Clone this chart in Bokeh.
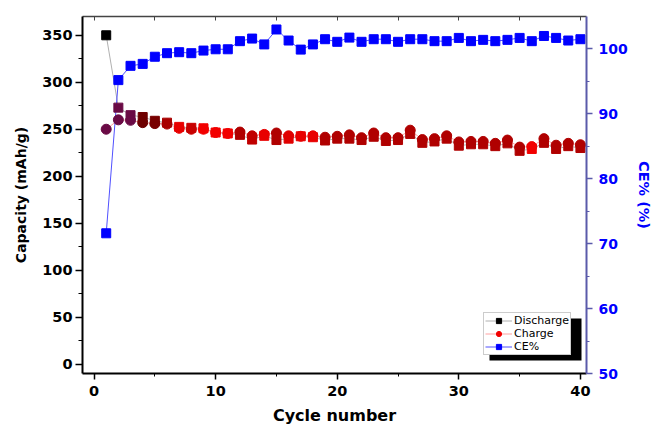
from bokeh.plotting import figure
from bokeh.models import (LinearAxis, Range1d, FixedTicker, ColumnDataSource,
                          Legend, LegendItem, BoxAnnotation)
from bokeh.embed import file_html
from bokeh.resources import INLINE

# ---------------- data ----------------
cycles = list(range(1, 41))
discharge = [350, 273, 265, 263, 259, 257, 252.5, 251.5, 251, 246.5,
             245.5, 244, 239, 243, 238.5, 240, 242.5, 241.5, 238, 240,
             240, 238.5, 242, 237.5, 238.5, 245, 235.5, 237, 240, 232.5,
             234, 234, 232, 235, 227, 229, 235.5, 229, 232, 230]
charge = [250, 260, 259.5, 257, 256, 255.5, 251, 250, 250, 246.5,
          245.5, 247, 243, 244.5, 246, 243, 242.5, 243, 241.5, 242.5,
          244, 241, 246, 241, 241, 249, 239, 240, 243, 236.5,
          237, 237, 235, 238.5, 231, 231.5, 240, 233, 235, 233.5]
ce = [71.6, 95.2, 97.4, 97.7, 98.8, 99.35, 99.5, 99.35, 99.75, 99.95,
      99.95, 101.2, 101.6, 100.7, 103.0, 101.3, 99.9, 100.7, 101.5, 101.1,
      101.75, 101.1, 101.5, 101.5, 101.1, 101.5, 101.5, 101.2, 101.2, 101.7,
      101.2, 101.4, 101.2, 101.4, 101.7, 101.2, 102.0, 101.7, 101.3, 101.5]

x_ticks = [0, 10, 20, 30, 40]
x_minor = [5, 15, 25, 35]
top_ticks = [0, 5, 10, 15, 20, 25, 30, 35, 40]
cap_ticks = [0, 50, 100, 150, 200, 250, 300, 350]
cap_minor = [25, 75, 125, 175, 225, 275, 325]
ce_ticks = [50, 60, 70, 80, 90, 100]
ce_minor = [55, 65, 75, 85, 95]

series_names = ["Discharge", "Charge", "CE%"]

# ---------------- styles ----------------
RED = "#f20000"
point_colors = (["#6a0a45"] * 3 +
                ["#6e0000", "#780000", "#a80000", "#e80000", "#c80000",
                 RED, RED, RED, "#b00000", "#c00000",
                 "#e80000", "#b00000", "#e00000", "#e80000", "#e80000"] +
                ["#b00000"] * 17 + [RED] + ["#b00000"] * 4)
discharge_colors = ["#000000"] + point_colors[1:]

FONT = "DejaVu Sans"
BLUE = "#0000ff"
RAXIS = "#5a5aaa"

src = ColumnDataSource(dict(cycle=cycles, discharge=discharge, charge=charge,
                            ce=ce, dcol=discharge_colors, ccol=point_colors))

p = figure(width=654, height=428, output_backend="svg", toolbar_location=None,
           x_range=Range1d(-0.95, 40.5), y_range=Range1d(-10, 370),
           min_border_left=82, min_border_right=64, min_border_top=16,
           min_border_bottom=55)
p.extra_y_ranges = {"ce": Range1d(50, 105)}
p.xgrid.visible = False
p.ygrid.visible = False
p.outline_line_color = None
p.background_fill_color = "white"
p.border_fill_color = "white"

# bottom axis
xa = p.xaxis[0]
xa.ticker = FixedTicker(ticks=x_ticks, minor_ticks=x_minor)
xa.axis_label = "Cycle number"
xa.axis_label_text_font = FONT
xa.axis_label_text_font_style = "bold"
xa.axis_label_text_font_size = "16px"
xa.axis_label_text_color = "black"
xa.axis_label_standoff = 7
xa.major_label_text_font = FONT
xa.major_label_text_font_style = "bold"
xa.major_label_text_font_size = "14.5px"
xa.major_label_text_color = "black"
xa.major_label_standoff = 6
xa.axis_line_color = "black"
xa.axis_line_width = 2
xa.major_tick_line_color = "black"
xa.minor_tick_line_color = "black"
xa.major_tick_out = 6
xa.major_tick_in = 0
xa.minor_tick_out = 3
xa.minor_tick_in = 0
xa.major_tick_line_width = 1.5

# left axis
ya = p.yaxis[0]
ya.ticker = FixedTicker(ticks=cap_ticks, minor_ticks=cap_minor)
ya.axis_label = "Capacity (mAh/g)"
ya.axis_label_text_font = FONT
ya.axis_label_text_font_style = "bold"
ya.axis_label_text_font_size = "14px"
ya.axis_label_text_color = "black"
ya.axis_label_standoff = 10
ya.major_label_text_font = FONT
ya.major_label_text_font_style = "bold"
ya.major_label_text_font_size = "14.5px"
ya.major_label_text_color = "black"
ya.major_label_standoff = 3
ya.axis_line_color = "black"
ya.axis_line_width = 2
ya.major_tick_line_color = "black"
ya.minor_tick_line_color = "black"
ya.major_tick_out = 7
ya.major_tick_in = 0
ya.minor_tick_out = 4
ya.minor_tick_in = 0
ya.major_tick_line_width = 1.5

# right axis
ra = LinearAxis(y_range_name="ce",
                ticker=FixedTicker(ticks=ce_ticks, minor_ticks=ce_minor),
                axis_label="CE% (%)")
ra.axis_label_text_font = FONT
ra.axis_label_text_font_style = "bold"
ra.axis_label_text_font_size = "14.5px"
ra.axis_label_text_color = BLUE
ra.axis_label_standoff = 5
ra.major_label_text_font = FONT
ra.major_label_text_font_style = "bold"
ra.major_label_text_font_size = "14px"
ra.major_label_text_color = BLUE
ra.major_label_standoff = 6
ra.axis_line_color = RAXIS
ra.axis_line_width = 2
ra.major_tick_line_color = RAXIS
ra.minor_tick_line_color = RAXIS
ra.major_tick_out = 6
ra.major_tick_in = 0
ra.minor_tick_out = 3
ra.minor_tick_in = 0
ra.major_tick_line_width = 1.5
p.add_layout(ra, "right")

# top axis (frame with inward ticks, no labels)
ta = LinearAxis(ticker=FixedTicker(ticks=top_ticks, minor_ticks=[]))
ta.major_label_overrides = {t: "" for t in top_ticks}
ta.major_label_standoff = 0
ta.major_tick_in = 4
ta.major_tick_out = 0
ta.minor_tick_in = 0
ta.minor_tick_out = 0
ta.axis_line_color = "#444444"
ta.axis_line_width = 1.5
ta.major_tick_line_color = "#444444"
p.add_layout(ta, "above")

# lines
dl = p.line("cycle", "discharge", source=src, line_color="#b0b0b0", line_width=1)
cl = p.line("cycle", "charge", source=src, line_color="#ffa0a0", line_width=1)
el = p.line("cycle", "ce", source=src, y_range_name="ce", line_color="#5050ff",
            line_width=1)

# markers
ds = p.scatter("cycle", "discharge", source=src, marker="square", size=9,
               fill_color="dcol", line_color="dcol")
cs = p.scatter("cycle", "charge", source=src, marker="circle", size=10,
               fill_color="ccol", line_color="ccol")
es = p.scatter("cycle", "ce", source=src, y_range_name="ce", marker="square",
               size=9, fill_color=BLUE, line_color=BLUE)

shadow = BoxAnnotation(left=489, right=581, top=318, bottom=360,
                       left_units="canvas", right_units="canvas",
                       top_units="canvas", bottom_units="canvas",
                       fill_color="black", fill_alpha=1, line_color=None)
p.add_layout(shadow)

legend = Legend(items=[LegendItem(label=series_names[0], renderers=[dl, ds], index=0),
                       LegendItem(label=series_names[1], renderers=[cl, cs], index=8),
                       LegendItem(label=series_names[2], renderers=[el, es], index=0)],
                location=(401, 18))
legend.label_text_font = FONT
legend.label_text_font_size = "11px"
legend.label_text_color = "black"
legend.label_height = 13
legend.label_standoff = 2
legend.glyph_width = 27
legend.glyph_height = 13
legend.spacing = 0
legend.padding = 1
legend.margin = 0
legend.border_line_color = "#999999"
legend.border_line_width = 1
legend.background_fill_color = "white"
legend.background_fill_alpha = 1
p.add_layout(legend)

open("out.html", "w").write(file_html(p, INLINE))
